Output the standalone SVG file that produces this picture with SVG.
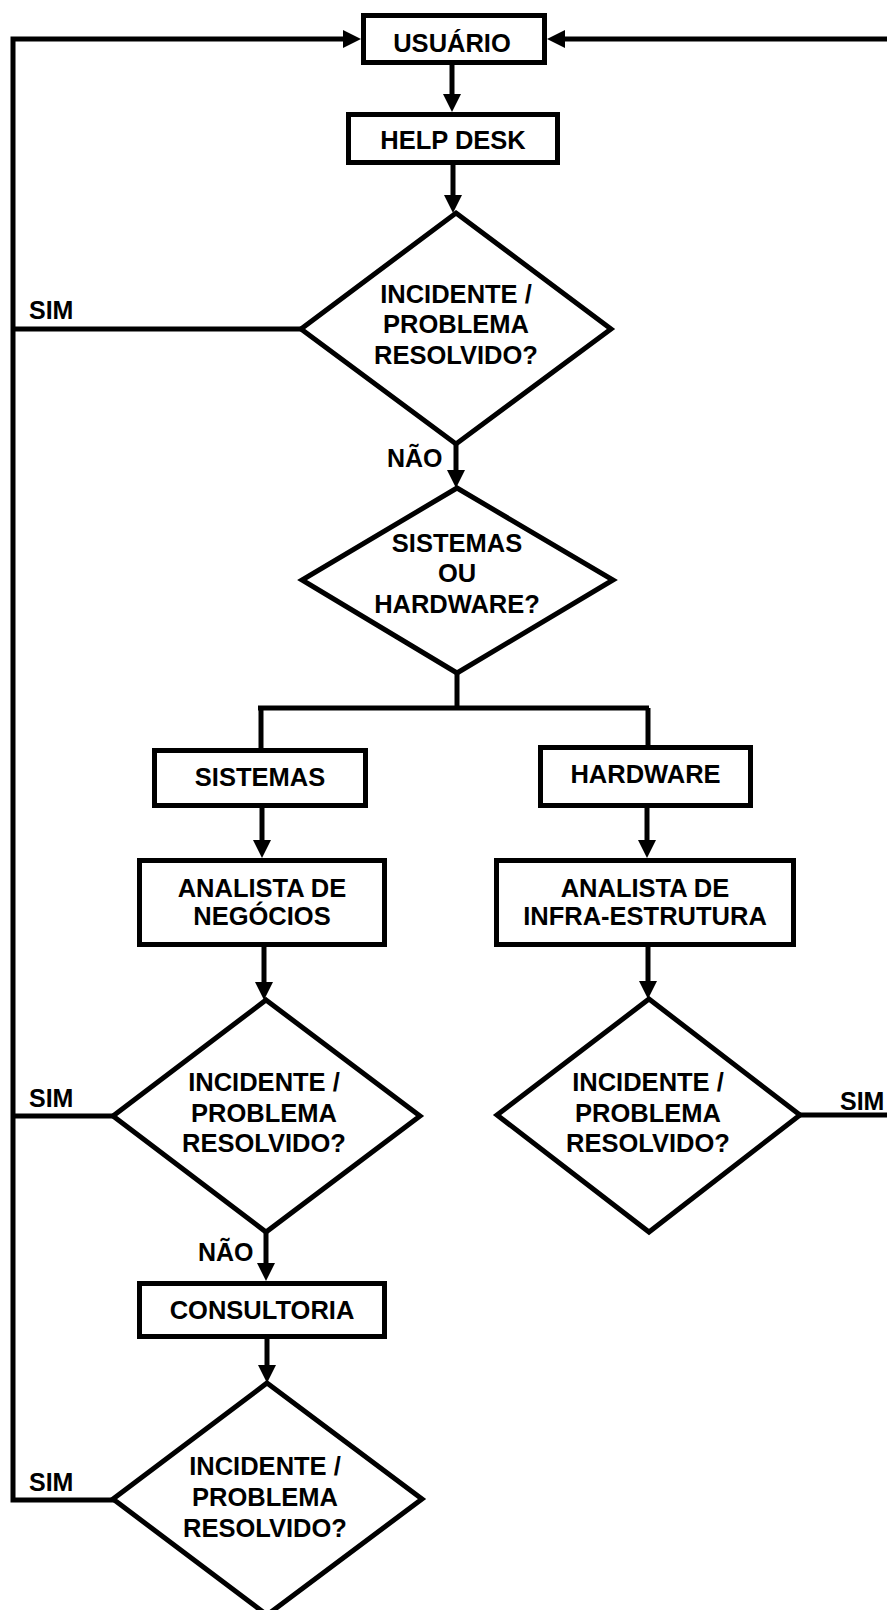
<svg xmlns="http://www.w3.org/2000/svg" width="887" height="1610" viewBox="0 0 887 1610">
  <style>
    .box { fill: #ffffff; stroke: #000000; stroke-width: 5; }
    .dec { fill: #ffffff; stroke: #000000; stroke-width: 5; stroke-linejoin: miter; }
    .wire { fill: none; stroke: #000000; stroke-width: 5; stroke-linejoin: miter; }
    .lbl { font-family: "Liberation Sans", Arial, Helvetica, sans-serif; font-weight: bold; font-size: 25.5px; fill: #000000; text-anchor: middle; }
    .tag { font-family: "Liberation Sans", Arial, Helvetica, sans-serif; font-weight: bold; font-size: 25px; fill: #000000; }
  </style>
  <defs>
    <marker id="arrow" markerUnits="userSpaceOnUse" markerWidth="18" markerHeight="18" refX="10" refY="9" orient="auto">
      <path d="M0,0 L18,9 L0,18 Z" fill="#000000"/>
    </marker>
  </defs>
  <rect width="887" height="1610" fill="#ffffff"/>

  <!-- connectors -->
  <g id="connectors">
    <path class="wire" d="M114,1500 H13 V39 H353" marker-end="url(#arrow)"/>
    <path class="wire" d="M887,39 H555" marker-end="url(#arrow)"/>
    <path class="wire" d="M452,65 V104" marker-end="url(#arrow)"/>
    <path class="wire" d="M453,165 V205" marker-end="url(#arrow)"/>
    <path class="wire" d="M301,329 H13"/>
    <path class="wire" d="M456,444 V480" marker-end="url(#arrow)"/>
    <path class="wire" d="M457,673 V708"/>
    <path class="wire" d="M258,708 H649"/>
    <path class="wire" d="M261,708 V748"/>
    <path class="wire" d="M648,708 V746"/>
    <path class="wire" d="M262,808 V850" marker-end="url(#arrow)"/>
    <path class="wire" d="M647,808 V850" marker-end="url(#arrow)"/>
    <path class="wire" d="M264,947 V992" marker-end="url(#arrow)"/>
    <path class="wire" d="M648,947 V991" marker-end="url(#arrow)"/>
    <path class="wire" d="M113,1116 H13"/>
    <path class="wire" d="M266,1232 V1273" marker-end="url(#arrow)"/>
    <path class="wire" d="M267,1339 V1375" marker-end="url(#arrow)"/>
    <path class="wire" d="M800,1115 H887"/>
    <text class="tag" x="29" y="319">SIM</text>
    <text class="tag" x="387" y="467">NÃO</text>
    <text class="tag" x="29" y="1107">SIM</text>
    <text class="tag" x="840" y="1110">SIM</text>
    <text class="tag" x="198" y="1261">NÃO</text>
    <text class="tag" x="29" y="1491">SIM</text>
  </g>

  <g id="usuario">
    <rect class="box" x="363.5" y="15.5" width="181" height="47"/>
    <text class="lbl" x="452" y="52">USUÁRIO</text>
  </g>

  <g id="help-desk">
    <rect class="box" x="348.5" y="114.5" width="209" height="48"/>
    <text class="lbl" x="453" y="149">HELP DESK</text>
  </g>

  <g id="decisao-help-desk">
    <polygon class="dec" points="456,213 611,329 456,444 301,329"/>
    <text class="lbl" x="456" y="303">INCIDENTE /</text>
    <text class="lbl" x="456" y="333">PROBLEMA</text>
    <text class="lbl" x="456" y="364">RESOLVIDO?</text>
  </g>

  <g id="sistemas-ou-hardware">
    <polygon class="dec" points="457,488 613,580 457,673 302,580"/>
    <text class="lbl" x="457" y="552">SISTEMAS</text>
    <text class="lbl" x="457" y="582">OU</text>
    <text class="lbl" x="457" y="613">HARDWARE?</text>
  </g>

  <g id="sistemas">
    <rect class="box" x="154.5" y="750.5" width="211" height="55"/>
    <text class="lbl" x="260" y="786">SISTEMAS</text>
  </g>

  <g id="hardware">
    <rect class="box" x="540.5" y="747.5" width="210" height="58"/>
    <text class="lbl" x="645.5" y="783">HARDWARE</text>
  </g>

  <g id="analista-negocios">
    <rect class="box" x="139.5" y="860.5" width="245" height="84"/>
    <text class="lbl" x="262" y="897">ANALISTA DE</text>
    <text class="lbl" x="262" y="925">NEGÓCIOS</text>
  </g>

  <g id="analista-infra">
    <rect class="box" x="496.5" y="860.5" width="297" height="84"/>
    <text class="lbl" x="645" y="897">ANALISTA DE</text>
    <text class="lbl" x="645" y="925">INFRA-ESTRUTURA</text>
  </g>

  <g id="decisao-negocios">
    <polygon class="dec" points="266,1000 420,1116 266,1232 113,1116"/>
    <text class="lbl" x="264" y="1091">INCIDENTE /</text>
    <text class="lbl" x="264" y="1122">PROBLEMA</text>
    <text class="lbl" x="264" y="1152">RESOLVIDO?</text>
  </g>

  <g id="decisao-infra">
    <polygon class="dec" points="649,999 800,1115 649,1232 497,1115"/>
    <text class="lbl" x="648" y="1091">INCIDENTE /</text>
    <text class="lbl" x="648" y="1122">PROBLEMA</text>
    <text class="lbl" x="648" y="1152">RESOLVIDO?</text>
  </g>

  <g id="consultoria">
    <rect class="box" x="139.5" y="1283.5" width="245" height="53"/>
    <text class="lbl" x="262" y="1319">CONSULTORIA</text>
  </g>

  <g id="decisao-consultoria">
    <polygon class="dec" points="267,1383 422,1499 267,1615 113,1499"/>
    <text class="lbl" x="265" y="1475">INCIDENTE /</text>
    <text class="lbl" x="265" y="1506">PROBLEMA</text>
    <text class="lbl" x="265" y="1537">RESOLVIDO?</text>
  </g>
</svg>
